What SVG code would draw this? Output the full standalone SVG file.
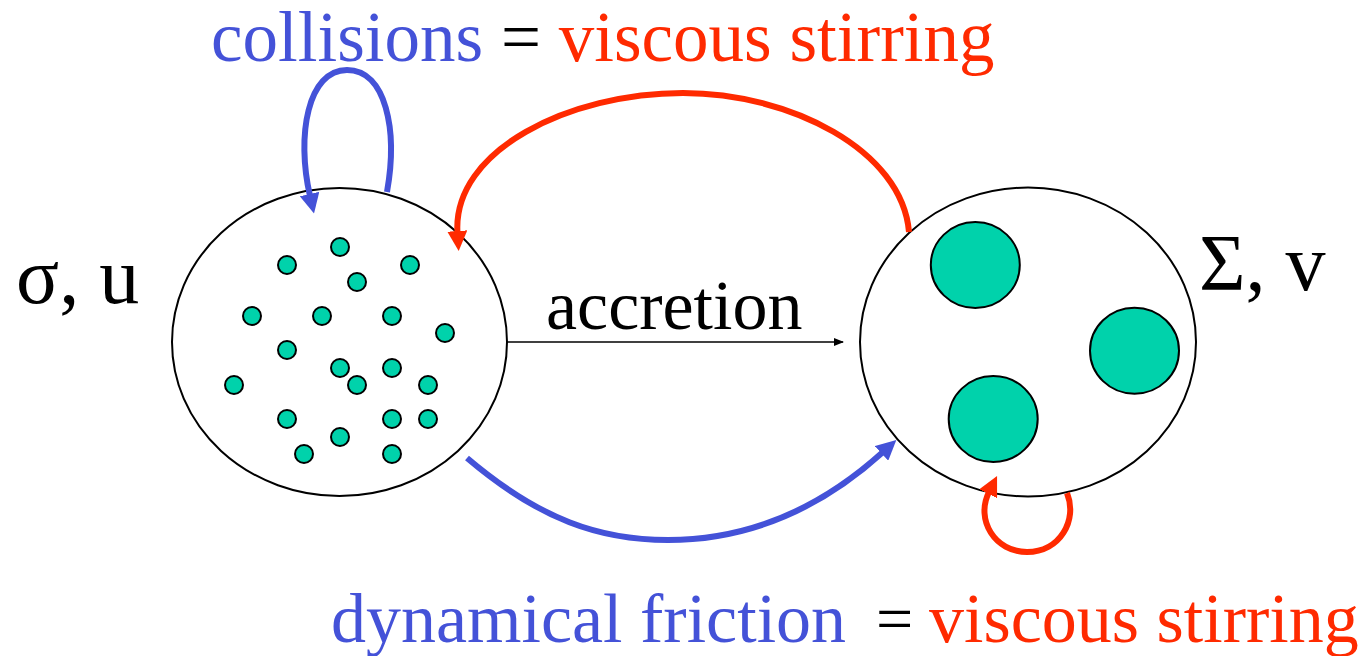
<svg xmlns="http://www.w3.org/2000/svg" width="1370" height="656" viewBox="0 0 1370 656">
<style>
.txt{font-family:"Liberation Serif","Times New Roman",serif;font-size:70px}
.big-txt{font-size:80px}
.blue{fill:#4452D8}
.red{fill:#FF2A00}
.blk{fill:#000}
.node{fill:#fff;stroke:#000;stroke-width:2}
.dot{fill:#00D2AB;stroke:#000;stroke-width:2}
.big{fill:#00D2AB;stroke:#000;stroke-width:2}
.cb{fill:none;stroke:#4452D8;stroke-width:6}
.cr{fill:none;stroke:#FF2A00;stroke-width:6}
</style>
<defs>
<marker id="ab" viewBox="0 0 20 20" refX="2" refY="10" markerWidth="20" markerHeight="20" markerUnits="userSpaceOnUse" orient="auto"><path d="M0,0 L20,10 L0,20 Z" fill="#4452D8"/></marker>
<marker id="ar" viewBox="0 0 20 20" refX="2" refY="10" markerWidth="20" markerHeight="20" markerUnits="userSpaceOnUse" orient="auto"><path d="M0,0 L20,10 L0,20 Z" fill="#FF2A00"/></marker>
<marker id="ak" viewBox="0 0 10 8" refX="9" refY="4" markerWidth="10" markerHeight="8" markerUnits="userSpaceOnUse" orient="auto"><path d="M0,0 L10,4 L0,8 Z" fill="#000"/></marker>
</defs>

<g id="planetesimals">
<ellipse class="node" cx="339.5" cy="342" rx="167.5" ry="154"/>
<circle class="dot" cx="340" cy="247" r="9"/>
<circle class="dot" cx="287" cy="265" r="9"/>
<circle class="dot" cx="410" cy="265" r="9"/>
<circle class="dot" cx="357" cy="282" r="9"/>
<circle class="dot" cx="252" cy="316" r="9"/>
<circle class="dot" cx="322" cy="316" r="9"/>
<circle class="dot" cx="392" cy="316" r="9"/>
<circle class="dot" cx="445" cy="333" r="9"/>
<circle class="dot" cx="287" cy="350" r="9"/>
<circle class="dot" cx="340" cy="368" r="9"/>
<circle class="dot" cx="392" cy="368" r="9"/>
<circle class="dot" cx="234" cy="385" r="9"/>
<circle class="dot" cx="357" cy="385" r="9"/>
<circle class="dot" cx="428" cy="385" r="9"/>
<circle class="dot" cx="287" cy="419" r="9"/>
<circle class="dot" cx="392" cy="419" r="9"/>
<circle class="dot" cx="428" cy="419" r="9"/>
<circle class="dot" cx="340" cy="437" r="9"/>
<circle class="dot" cx="304" cy="454" r="9"/>
<circle class="dot" cx="392" cy="454" r="9"/>
<text class="txt big-txt blk" x="16" y="303">σ, u</text>
</g>

<g id="protoplanets">
<ellipse class="node" cx="1028" cy="342" rx="168" ry="154.5"/>
<ellipse class="big" cx="975.3" cy="265" rx="44.5" ry="43"/>
<ellipse class="big" cx="1134.5" cy="350.7" rx="44.5" ry="43"/>
<ellipse class="big" cx="993.2" cy="419" rx="44.5" ry="43"/>
<text class="txt big-txt blk" x="1199" y="290">Σ, v</text>
</g>

<g id="connectors">
<line x1="507" y1="342" x2="843" y2="342" stroke="#000" stroke-width="1.5" marker-end="url(#ak)"/>
<text class="txt blk" x="546" y="329">accretion</text>
<path class="cb" d="M387,192 C398,130 386,70 347,70 C308,70 296,135 310,196" marker-end="url(#ab)"/>
<path class="cr" d="M909,232 C902,150 790,93 683,93 C570,93 452,150 457.5,233" marker-end="url(#ar)"/>
<path class="cb" d="M467,458 C540,520 600,540 668,540 C760,540 830,500 883,452" marker-end="url(#ab)"/>
<path class="cr" d="M1067,493 C1078,520 1060,552 1027,552 C995,552 975,520 989,492" marker-end="url(#ar)"/>
</g>

<g id="labels">
<text class="txt" x="211" y="61" style="font-size:71px"><tspan class="blue">collisions</tspan><tspan class="blk"> = </tspan><tspan class="red">viscous stirring</tspan></text>
<text class="txt blue" x="331" y="642">dynamical friction</text>
<text class="txt blk" x="876" y="641" style="font-size:66px">=</text>
<text class="txt red" x="929" y="642">viscous stirring</text>
</g>
</svg>
